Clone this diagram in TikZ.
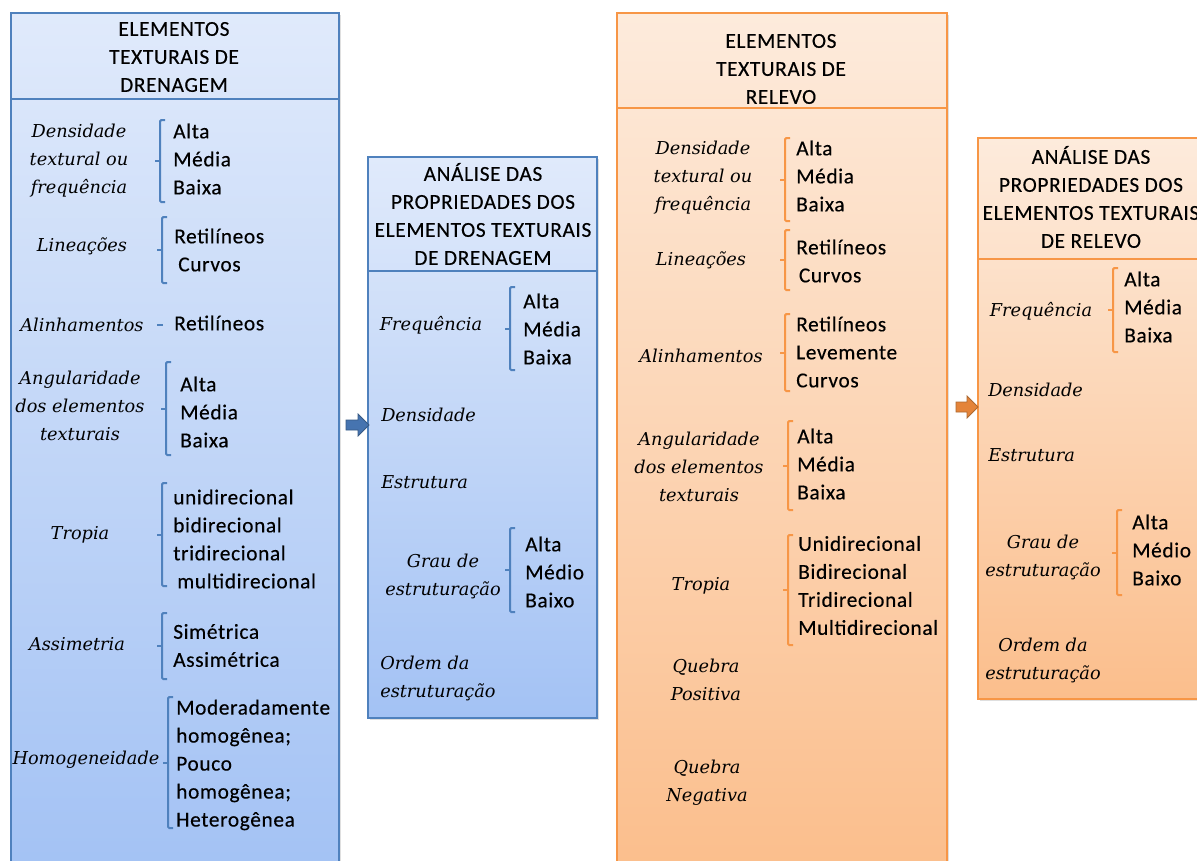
\documentclass[tikz,border=0pt]{standalone}
\usepackage{fontspec}
\setmainfont{Carlito}[LetterSpace=3,FakeBold=0.3]
\newfontfamily\labfont{DejaVu Serif}
\usetikzlibrary{shadows,calc}
\definecolor{bB}{RGB}{79,129,189}
\definecolor{bT}{RGB}{224,234,251}
\definecolor{bD}{RGB}{163,194,244}
\definecolor{bA}{RGB}{70,116,176}
\definecolor{oB}{RGB}{247,150,70}
\definecolor{oT}{RGB}{253,235,220}
\definecolor{oD}{RGB}{251,190,140}
\definecolor{oA}{RGB}{228,132,58}
\newcommand{\mybrk}[4]{%
  \draw[#1] (#2+5,#3) -- (#2,#3) -- (#2,#4) -- (#2+5,#4);
  \draw[#1] (#2,{(#3+#4)/2}) -- (#2-5,{(#3+#4)/2});}
\begin{document}
\begin{tikzpicture}[x=0.75pt,y=-0.75pt,
  boxbase/.style={rectangle, inner sep=0pt, anchor=north west, line width=1.5pt,
    drop shadow={opacity=0.25,shadow xshift=1.5pt,shadow yshift=-1.5pt}},
  bluebox/.style={boxbase, draw=bB, top color=bT, bottom color=bD},
  orangebox/.style={boxbase, draw=oB, top color=oT, bottom color=oD},
  head/.style={font=\fontsize{16}{21}\selectfont, align=center, inner sep=0pt},
  lab/.style={font=\labfont\itshape\fontsize{13.3}{21}\selectfont, align=center, inner sep=0pt},
  labl/.style={lab, align=left, anchor=west},
  item/.style={font=\fontsize{16}{21}\selectfont, align=left, anchor=west, inner sep=0pt},
  bbr/.style={draw=bB, line width=1.5pt, rounded corners=1pt},
  obr/.style={draw=oB, line width=1.5pt, rounded corners=1pt},
  barrow/.style={fill=bA, draw=bB!70!black, line width=0.6pt},
  oarrow/.style={fill=oA, draw=oB!70!black, line width=0.6pt}
]
\useasboundingbox (0,0) rectangle (1197,861);
\fill[white] (0,0) rectangle (1197,861);
\clip (0,0) rectangle (1197,861);

% boxes
\node[bluebox, minimum width=246pt, minimum height=645pt] (b1) at (10,12) {};
\node[bluebox, minimum width=171.75pt, minimum height=420.75pt] (b2) at (367,156) {};
\node[orangebox, minimum width=247.5pt, minimum height=645pt] (b3) at (616,12) {};
\node[orangebox, minimum width=171pt, minimum height=420.75pt] (b4) at (977,137) {};

\draw[bB, line width=0.8pt] (b1.west |- 0,99) -- (b1.east |- 0,99);
\draw[bB, line width=0.8pt] (b2.west |- 0,271) -- (b2.east |- 0,271);
\draw[oB, line width=0.8pt] (b3.west |- 0,108) -- (b3.east |- 0,108);
\draw[oB, line width=0.8pt] (b4.west |- 0,259) -- (b4.east |- 0,259);

% arrows
\path (b1.east |- 0,425) ++(6,0) coordinate (a1s);
\filldraw[barrow] (a1s) ++(0,-5) -- ++(12,0) -- ++(0,-6) -- ++(11,11) -- ++(-11,11) -- ++(0,-6) -- ++(-12,0) -- cycle;
\path (b3.east |- 0,407) ++(8,0) coordinate (a2s);
\filldraw[oarrow] (a2s) ++(0,-5) -- ++(11,0) -- ++(0,-6) -- ++(11,11) -- ++(-11,11) -- ++(0,-6) -- ++(-11,0) -- cycle;

% headers
\node[head] (h1) at (174,57) {ELEMENTOS\\TEXTURAIS DE\\DRENAGEM};
\node[head] (h2) at (483,214) {ANÁLISE DAS\\PROPRIEDADES DOS\\ELEMENTOS TEXTURAIS\\DE DRENAGEM};
\node[head] (h3) at (781,69) {ELEMENTOS\\TEXTURAIS DE\\RELEVO};
\node[head] (h4) at (1091,197) {ANÁLISE DAS\\PROPRIEDADES DOS\\ELEMENTOS TEXTURAIS\\DE RELEVO};

% box 1
\node[lab] (l11) at (79,161) {Densidade\\textural ou\\frequência};
\mybrk{bbr}{160}{120}{202}
\node[item] (i11) at (173,159) {Alta\\Média\\Baixa};
\node[lab] (l12) at (82,246) {Lineações};
\mybrk{bbr}{162}{217}{283}
\node[item] (i12) at (174,250) {Retilíneos\\\hspace{3pt}Curvos};
\node[lab] (l13) at (82,325) {Alinhamentos};
\draw[bB, line width=1.5pt] (157,325) -- (163,325);
\node[item] (i13) at (174,323) {Retilíneos};
\node[lab] (l14) at (80,406) {Angularidade\\dos elementos\\texturais};
\mybrk{bbr}{166}{362}{455}
\node[item] (i14) at (180,412) {Alta\\Média\\Baixa};
\node[lab] (l15) at (80,535) {Tropia};
\mybrk{bbr}{162}{483}{586}
\node[item] (i15) at (173,539) {unidirecional\\bidirecional\\tridirecional\\\hspace{3pt}multidirecional};
\node[lab] (l16) at (77,644) {Assimetria};
\mybrk{bbr}{162}{613}{679}
\node[item] (i16) at (173,645.5) {Simétrica\\Assimétrica};
\node[lab] (l17) at (86,760) {Homogeneidade};
\mybrk{bbr}{168}{697}{828}
\node[item] (i17) at (176,765) {Moderadamente\\homogênea;\\Pouco\\homogênea;\\Heterogênea};

% box 2
\node[lab] (l21) at (431,325) {Frequência};
\mybrk{bbr}{510}{287}{370}
\node[item] (i21) at (523,329) {Alta\\Média\\Baixa};
\node[labl] (l22) at (381,415) {Densidade};
\node[labl] (l23) at (381,482) {Estrutura};
\node[lab] (l24) at (443,576) {Grau de\\estruturação};
\mybrk{bbr}{510}{528}{612}
\node[item] (i24) at (525,572) {Alta\\Médio\\Baixo};
\node[labl] (l25) at (380,678) {Ordem da\\estruturação};

% box 3
\node[lab] (l31) at (703,178) {Densidade\\textural ou\\frequência};
\mybrk{obr}{785}{138}{221}
\node[item] (i31) at (796,176) {Alta\\Média\\Baixa};
\node[lab] (l32) at (701,260) {Lineações};
\mybrk{obr}{785}{230}{290}
\node[item] (i32) at (796,261) {Retilíneos\\\hspace{2pt}Curvos};
\node[lab] (l33) at (701,356) {Alinhamentos};
\mybrk{obr}{785}{314}{391}
\node[item] (i33) at (796,352) {Retilíneos\\Levemente\\Curvos};
\node[lab] (l34) at (699,467) {Angularidade\\dos elementos\\texturais};
\mybrk{obr}{788}{421}{510}
\node[item] (i34) at (797,464) {Alta\\Média\\Baixa};
\node[lab] (l35) at (701,586) {Tropia};
\mybrk{obr}{788}{535}{645}
\node[item] (i35) at (798,585.5) {Unidirecional\\Bidirecional\\Tridirecional\\Multidirecional};
\node[lab] (l36) at (706,680) {Quebra\\Positiva};
\node[lab] (l37) at (707,783) {Quebra\\Negativa};

% box 4
\node[lab] (l41) at (1041,311) {Frequência};
\mybrk{obr}{1113}{268}{352}
\node[item] (i41) at (1124,307) {Alta\\Média\\Baixa};
\node[labl] (l42) at (988,390) {Densidade};
\node[labl] (l43) at (988,455) {Estrutura};
\node[lab] (l44) at (1043,557) {Grau de\\estruturação};
\mybrk{obr}{1117}{510}{595}
\node[item] (i44) at (1132,550) {Alta\\Médio\\Baixo};
\node[lab] (l45) at (1043,660) {Ordem da\\estruturação};
\end{tikzpicture}
\end{document}
